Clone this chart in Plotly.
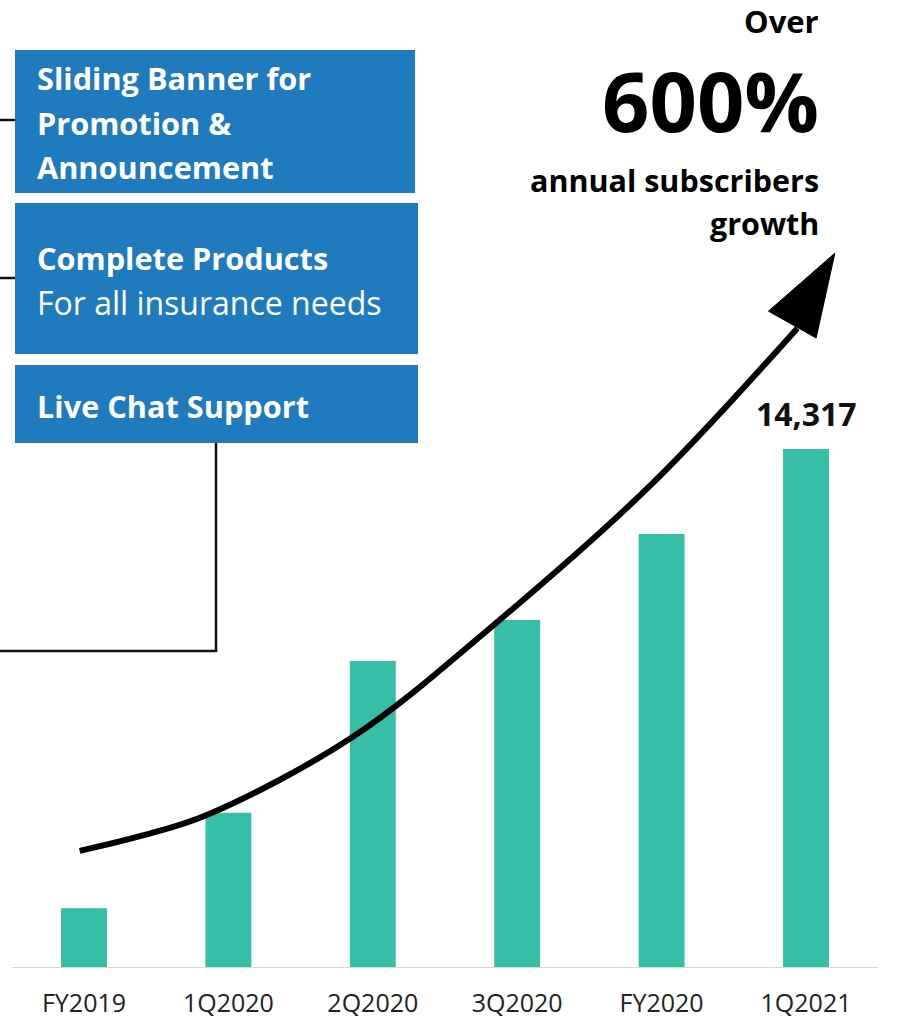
import plotly.graph_objects as go

# ---------------- data ----------------
categories = ["FY2019", "1Q2020", "2Q2020", "3Q2020", "FY2020", "1Q2021"]
subscribers = [1650, 4280, 8470, 9600, 11970, 14317]
value_labels = ["", "", "", "", "", "14,317"]

# decorative growth arrow, in axis units (category index, subscribers)
trend_x = [-0.03, 0.42, 0.85, 1.86, 2.86, 3.94, 4.94]
trend_y = [3230, 3670, 4220, 6370, 9540, 13380, 17650]
head_x = [5.20, 4.74, 5.07]
head_y = [19720, 18120, 17380]

feature_boxes = [
    ["<b>Sliding Banner for</b>", "<b>Promotion &</b>", "<b>Announcement</b>"],
    ["<b>Complete Products</b>", "For all insurance needs"],
    ["<b>Live Chat Support</b>"],
]

# ---------------- layout geometry ----------------
W, H = 897, 1020
PLOT_BOTTOM = 968          # pixel row of baseline
FONT = "Open Sans"
BAR_COLOR = "#36bea6"
BOX_COLOR = "#1f7bbd"


def px(x):
    return x / W


def py(y):
    return (PLOT_BOTTOM - y) / PLOT_BOTTOM


fig = go.Figure()

fig.add_trace(go.Bar(
    x=list(range(len(categories))), y=subscribers,
    marker=dict(color=BAR_COLOR, line=dict(width=0)),
    width=0.318, hoverinfo="skip",
))

fig.add_trace(go.Scatter(
    x=trend_x, y=trend_y, mode="lines",
    line=dict(color="black", width=6, shape="spline", smoothing=1.0),
    hoverinfo="skip",
))
fig.add_trace(go.Scatter(
    x=head_x + [head_x[0]], y=head_y + [head_y[0]], mode="lines",
    fill="toself", fillcolor="black", line=dict(color="black", width=1),
    hoverinfo="skip",
))

shapes = []
# baseline
shapes.append(dict(type="line", xref="x", yref="y", x0=-0.5, x1=5.5, y0=0, y1=0,
                   line=dict(color="#d9d9d9", width=2)))

# feature boxes
box_rows = [(50, 193), (203, 354), (365, 443)]
for (y0, y1), x1 in zip(box_rows, [415, 418, 418]):
    shapes.append(dict(type="rect", xref="paper", yref="paper",
                       x0=px(15), x1=px(x1), y0=py(y1), y1=py(y0),
                       fillcolor=BOX_COLOR, line=dict(width=0), layer="above"))

# connectors
conn = dict(color="#111111", width=2.5)
shapes.append(dict(type="line", xref="paper", yref="paper", x0=0, x1=px(15),
                   y0=py(120), y1=py(120), line=conn))
shapes.append(dict(type="line", xref="paper", yref="paper", x0=0, x1=px(15),
                   y0=py(278), y1=py(278), line=conn))
shapes.append(dict(type="path", xref="paper", yref="paper",
                   path=f"M {px(216)} {py(443)} L {px(216)} {py(651)} L 0 {py(651)}",
                   line=conn))

annotations = []
line_rows = [[78, 123, 167], [258, 302], [406]]
for lines, rows in zip(feature_boxes, line_rows):
    for text, row in zip(lines, rows):
        size = 30.7 if text.startswith("<b>") else 32
        annotations.append(dict(xref="paper", yref="paper", x=px(35), y=py(row),
                                text=text, showarrow=False, xanchor="left",
                                yanchor="middle",
                                font=dict(family=FONT, size=size, color="white")))

right_texts = [
    ("<b>Over</b>", 21, 31),
    ("<b>600%</b>", 100, 83),
    ("<b>annual subscribers</b>", 180, 30.5),
    ("<b>growth</b>", 223, 30.5),
]
for text, row, size in right_texts:
    annotations.append(dict(xref="paper", yref="paper", x=px(821), y=py(row),
                            text=text, showarrow=False, xanchor="right",
                            yanchor="middle",
                            font=dict(family=FONT, size=size, color="black")))

# value label(s) above bars
for i, (lab, val) in enumerate(zip(value_labels, subscribers)):
    if lab:
        annotations.append(dict(xref="x", yref="y", x=i, y=val, text=f"<b>{lab}</b>",
                                showarrow=False, xanchor="center", yanchor="bottom",
                                yshift=12,
                                font=dict(family=FONT, size=32, color="#111111")))

x_per_px = 1 / 144.4
fig.update_layout(
    width=W, height=H,
    margin=dict(l=0, r=0, t=0, b=H - PLOT_BOTTOM, pad=0, autoexpand=False),
    paper_bgcolor="white", plot_bgcolor="white",
    showlegend=False,
    shapes=shapes, annotations=annotations,
    xaxis=dict(range=[-84 * x_per_px, (W - 84) * x_per_px],
               tickvals=list(range(len(categories))), ticktext=categories,
               showgrid=False, zeroline=False, showline=False, ticks="",
               automargin=False, ticklabelstandoff=18,
               tickfont=dict(family=FONT, size=25, color="#222222")),
    yaxis=dict(range=[0, 14317 * PLOT_BOTTOM / (PLOT_BOTTOM - 449)],
               automargin=False,
               showgrid=False, zeroline=False, showline=False,
               showticklabels=False, ticks=""),
)

fig.write_html("out.html")
